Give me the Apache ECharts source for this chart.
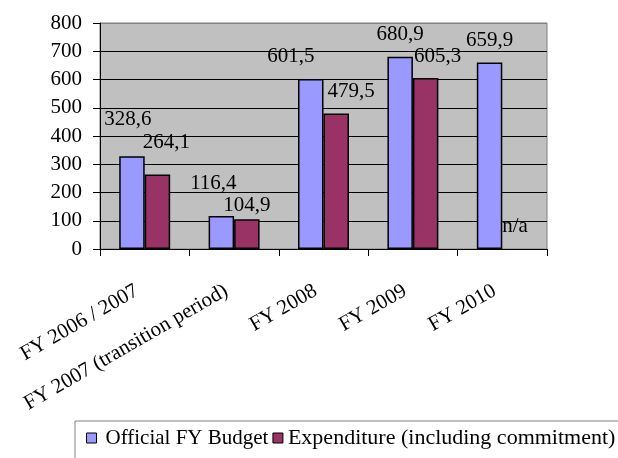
<!DOCTYPE html>
<html>
<head>
<meta charset="utf-8">
<script src="https://cdn.jsdelivr.net/npm/echarts@6/dist/echarts.min.js"></script>
<style>
  html, body { margin: 0; padding: 0; background: #fff; }
  #chart { width: 618px; height: 458px; }
</style>
</head>
<body>
<div id="chart"></div>
<script>
// categories and values
const years = ['FY 2006 / 2007', 'FY 2007 (transition period)', 'FY 2008', 'FY 2009', 'FY 2010']
const budget = [328.6, 116.4, 601.5, 680.9, 659.9]
const expenditure = [264.1, 104.9, 479.5, 605.3, null] // FY 2010: n/a
const yTicks = [0, 100, 200, 300, 400, 500, 600, 700, 800]

// label nudges (like the manual moves in the original sheet)
const budgetLabelShift = [[-4, -14], [-8, -10], [-20, 0], [0, 0], [0, 0]]
const expLabelShift = [[9, -9], [0, 9], [15, 0], [12, 1], [0, 0]]

const font = 'Liberation Serif'

function fmt(v) {
  return v.toFixed(1).replace('.', ',')
}

function buildData(values, shifts) {
  return values.map(function (v, i) {
    if (v === null) {
      return {
        value: 0,
        itemStyle: { borderWidth: 0, color: 'transparent' },
        label: { formatter: 'n/a', offset: shifts[i] },
      }
    }
    return { value: v, label: { offset: shifts[i] } }
  })
}

let chart = echarts.init(document.getElementById('chart'))
let option = {
  animation: false,
  grid: {
    left: 100,
    right: 71,
    top: 23,
    bottom: 209,
    show: true,
    backgroundColor: '#C0C0C0',
    borderColor: '#808080',
    borderWidth: 1,
  },
  legend: {
    left: 75,
    top: 421,
    width: 580,
    padding: [6, 12, 20, 11],
    backgroundColor: '#fff',
    borderColor: '#808080',
    borderWidth: 1,
    borderRadius: 0,
    itemWidth: 10,
    itemHeight: 10,
    itemGap: 4,
    icon: 'rect',
    itemStyle: { borderColor: '#000', borderWidth: 1 },
    textStyle: { fontFamily: font, fontSize: 21, color: '#000', padding: [0, 0, 0, 4] },
    data: [
      { name: 'Official FY Budget' },
      { name: 'Expenditure (including commitment)', textStyle: { fontSize: 22, padding: [0, 0, 0, 0] } },
    ],
  },
  xAxis: {
    type: 'category',
    data: years,
    axisLine: { lineStyle: { color: '#000', width: 1 } },
    axisTick: { show: true, length: 7, lineStyle: { color: '#000' } },
    axisLabel: {
      interval: 0,
      rotate: 30,
      margin: 36,
      padding: [0, 9, 0, 0],
      fontFamily: font,
      fontSize: 21,
      color: '#000',
    },
  },
  yAxis: {
    type: 'value',
    min: yTicks[0],
    max: yTicks[yTicks.length - 1],
    interval: 100,
    axisLine: { show: true, lineStyle: { color: '#000', width: 1 } },
    axisTick: { show: true, length: 7, lineStyle: { color: '#000' } },
    axisLabel: {
      margin: 18,
      fontFamily: font,
      fontSize: 21,
      color: '#000',
    },
    splitLine: {
      show: true,
      lineStyle: {
        // first entry also lands on the top line (800), which stays grey
        color: ['#808080', '#000', '#000', '#000', '#000', '#000', '#000', '#000'],
        width: 1,
      },
    },
  },
  series: [
    {
      name: 'Official FY Budget',
      type: 'bar',
      data: buildData(budget, budgetLabelShift),
      barGap: '0%',
      barCategoryGap: '43%',
      itemStyle: { color: '#9999FF', borderColor: '#000', borderWidth: 1.5 },
      label: {
        show: true,
        position: 'top',
        distance: 12,
        fontFamily: font,
        fontSize: 21,
        color: '#000',
        formatter: function (p) { return fmt(p.value) },
      },
    },
    {
      name: 'Expenditure (including commitment)',
      type: 'bar',
      data: buildData(expenditure, expLabelShift),
      barGap: '0%',
      barCategoryGap: '43%',
      itemStyle: { color: '#993366', borderColor: '#000', borderWidth: 1.5 },
      label: {
        show: true,
        position: 'top',
        distance: 12,
        fontFamily: font,
        fontSize: 21,
        color: '#000',
        formatter: function (p) { return fmt(p.value) },
      },
    },
  ],
}
chart.setOption(option)
</script>
</body>
</html>
